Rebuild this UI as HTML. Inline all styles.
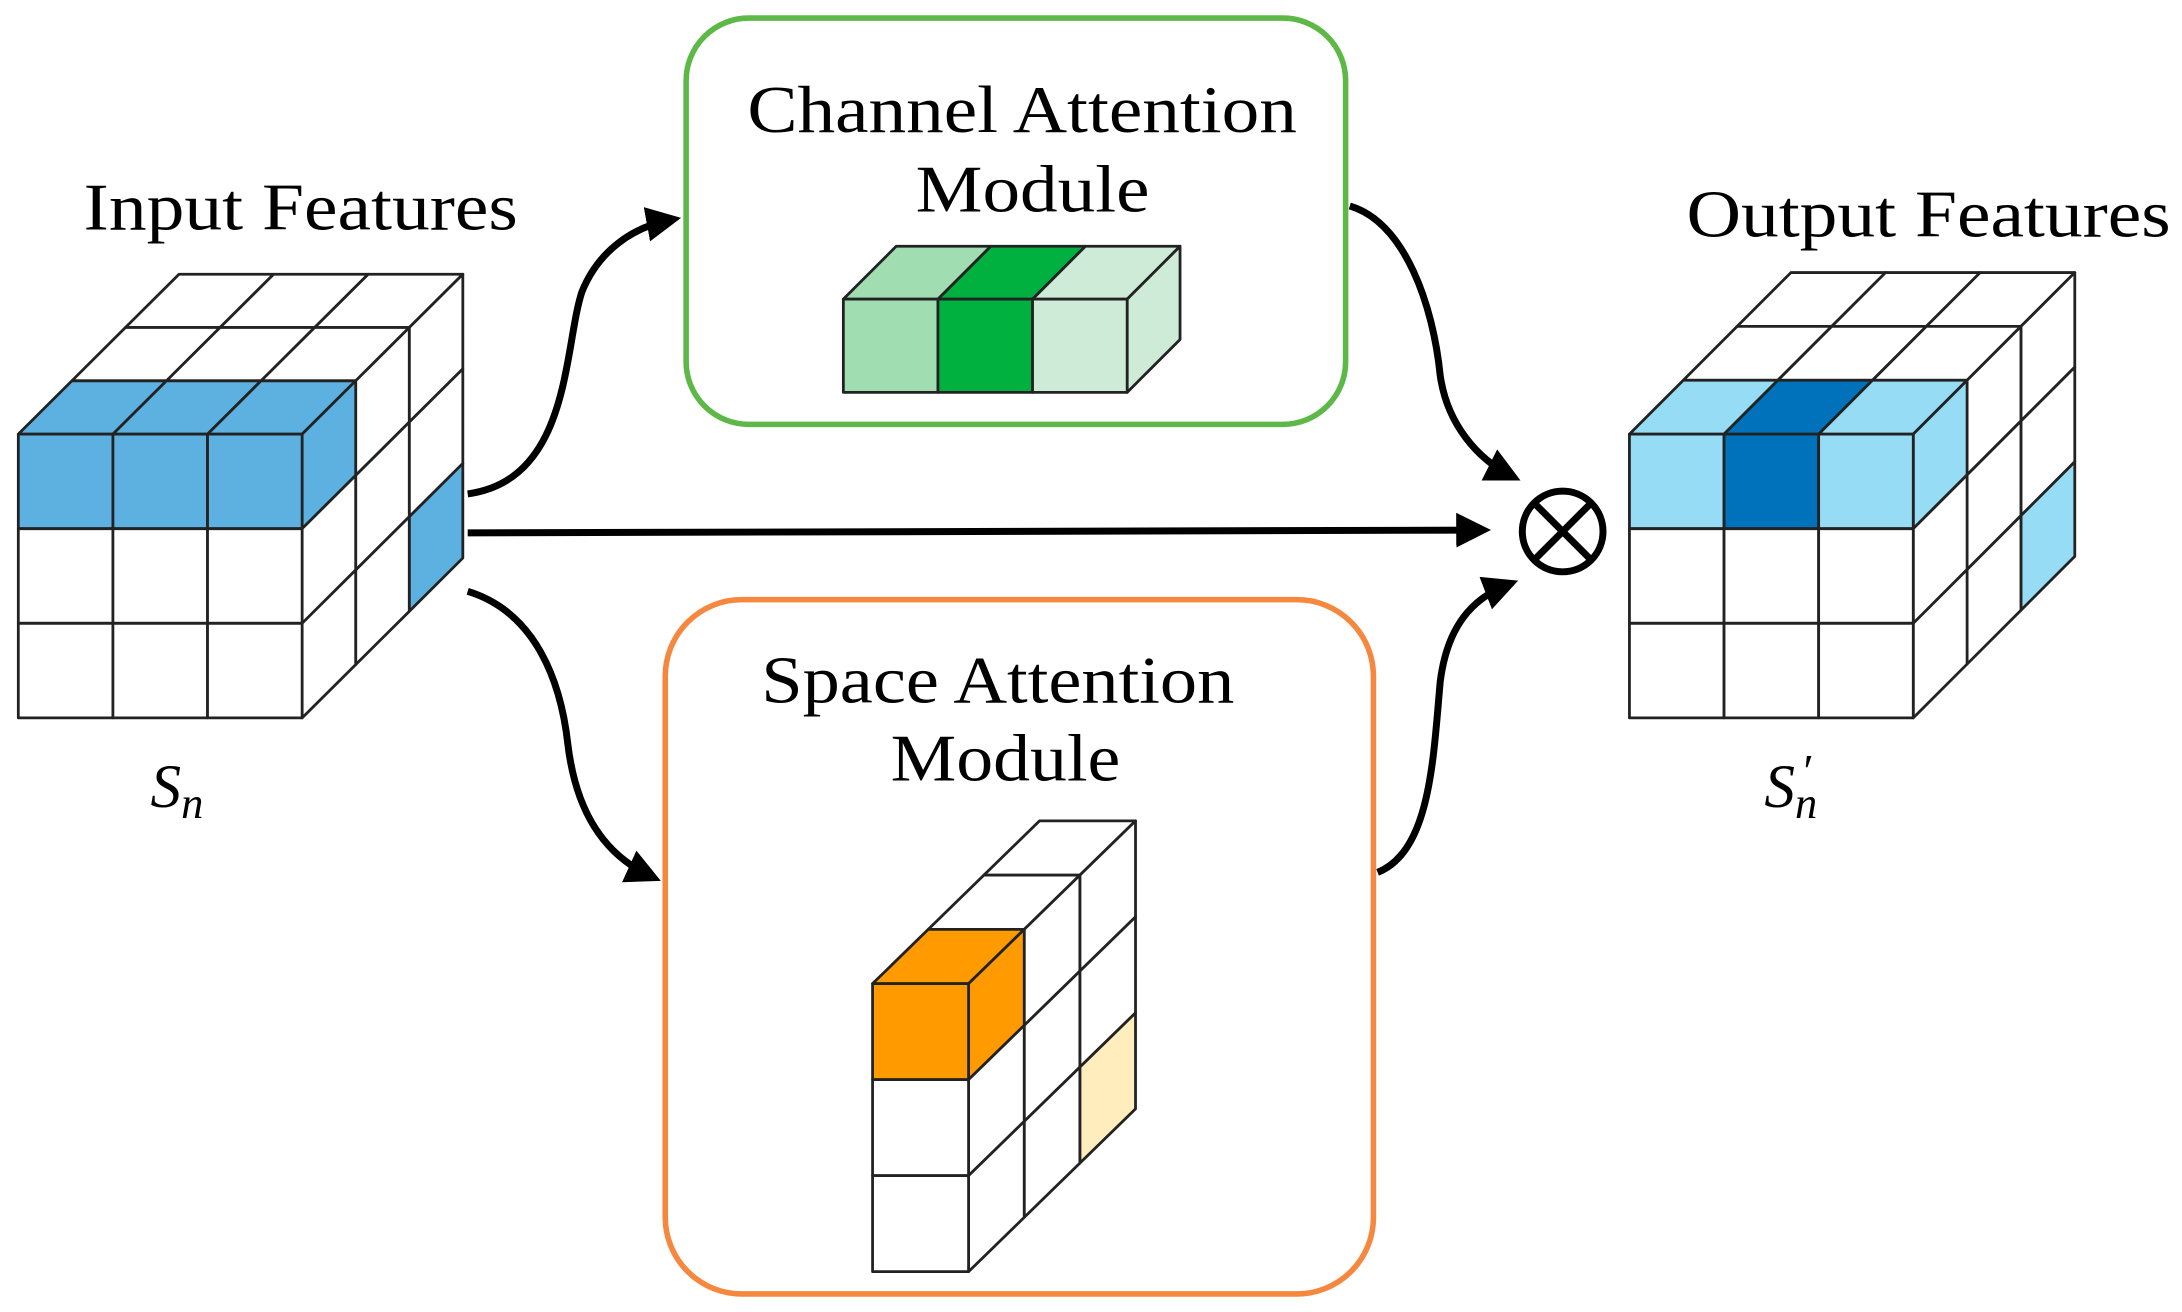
<!DOCTYPE html>
<html><head><meta charset="utf-8"><style>
html,body{margin:0;padding:0;background:#fff;}
svg{display:block;}
text{font-family:"Liberation Serif",serif;fill:#000;}
</style></head><body>
<svg id="s" width="2182" height="1312" viewBox="0 0 1568 943" xmlns="http://www.w3.org/2000/svg">
<defs>
<marker id="ah" markerWidth="5" markerHeight="5" refX="3.5" refY="2.5" orient="auto" markerUnits="strokeWidth">
<path d="M0,0 L5,2.5 L0,5 Z" fill="#000"/>
</marker>
</defs>
<rect x="493" y="13" width="474" height="292" rx="45" fill="none" stroke="#5DB847" stroke-width="4"/>
<rect x="478" y="431" width="509" height="499" rx="55" fill="none" stroke="#F5883E" stroke-width="4"/>
<text x="537" y="95" font-size="48" textLength="395" lengthAdjust="spacingAndGlyphs">Channel Attention</text>
<text x="658" y="152" font-size="48" textLength="168" lengthAdjust="spacingAndGlyphs">Module</text>
<text x="547" y="505" font-size="48" textLength="340" lengthAdjust="spacingAndGlyphs">Space Attention</text>
<text x="640" y="561" font-size="48" textLength="165" lengthAdjust="spacingAndGlyphs">Module</text>
<text x="60" y="165" font-size="48" textLength="312" lengthAdjust="spacingAndGlyphs">Input Features</text>
<text x="1212" y="170" font-size="48" textLength="348" lengthAdjust="spacingAndGlyphs">Output Features</text>
<text x="108" y="580" font-size="44" font-style="italic">S<tspan font-size="32" dy="8">n</tspan></text>
<text x="1268" y="580" font-size="44" font-style="italic">S<tspan font-size="32" dy="8">n</tspan></text>
<text x="1294" y="566" font-size="34" font-style="italic">′</text>
<g id="shapes"></g>
<g fill="none" stroke="#000" stroke-width="5">
<path d="M336,383 L1064,381" marker-end="url(#ah)"/>
<path d="M336,355 C410,345 405,250 418,210 C430,180 455,163 482,158" marker-end="url(#ah)"/>
<path d="M970,148 C1010,160 1030,220 1035,270 C1040,305 1062,330 1086,342" marker-end="url(#ah)"/>
<path d="M336,425 C385,440 403,490 408,535 C414,585 435,615 468,630" marker-end="url(#ah)"/>
<path d="M990,627 C1028,612 1030,545 1035,490 C1040,450 1058,430 1084,420" marker-end="url(#ah)"/>
<circle cx="1123" cy="382" r="29" stroke-width="5"/>
<path d="M1103,362 L1143,402 M1143,362 L1103,402" stroke-width="5"/>
</g>
</svg>
<script>
var g=document.getElementById('shapes');
function poly(pts,fill){var p=document.createElementNS('http://www.w3.org/2000/svg','polygon');
p.setAttribute('points',pts.map(function(a){return a[0]+','+a[1]}).join(' '));
p.setAttribute('fill',fill||'#fff');p.setAttribute('stroke','#222');p.setAttribute('stroke-width','2');
p.setAttribute('stroke-linejoin','round');g.appendChild(p);}
function cube(x0,y0,cols,rows,layers,c,dx,dy,fF,fT,fR,cw){
 cw=cw||c;
 for(var j=layers-1;j>=0;j--){
  for(var i=0;i<cols;i++){
   var ax=x0+i*cw+j*dx, ay=y0+j*dy;
   poly([[ax,ay],[ax+cw,ay],[ax+cw+dx,ay+dy],[ax+dx,ay+dy]],fT(i,j));
  }
 }
 for(var j=layers-1;j>=0;j--){
  for(var r=0;r<rows;r++){
   var ax=x0+cols*cw+j*dx, ay=y0+r*c+j*dy;
   poly([[ax,ay],[ax+dx,ay+dy],[ax+dx,ay+dy+c],[ax,ay+c]],fR(r,j));
  }
 }
 for(var r=0;r<rows;r++)for(var i=0;i<cols;i++){
  var ax=x0+i*cw, ay=y0+r*c;
  poly([[ax,ay],[ax+cw,ay],[ax+cw,ay+c],[ax,ay+c]],fF(i,r));
 }
}
var B='#5DB1E0';
cube(13,312,3,3,3,68,38.5,-38.3,
 function(i,r){return r==0?B:'#fff'},
 function(i,j){return j==0?B:'#fff'},
 function(r,j){return (j==0&&r==0)||(j==2&&r==2)?B:'#fff'});
var L='#97DCF5',D='#0072BB';
cube(1171,312,3,3,3,68,38.7,-38.7,
 function(i,r){return r==0?(i==1?D:L):'#fff'},
 function(i,j){return j==0?(i==1?D:L):'#fff'},
 function(r,j){return (j==0&&r==0)||(j==2&&r==2)?L:'#fff'});
var G=['#A0DDB0','#00B140','#CDEBD6'];
cube(606,215,3,1,1,67,38,-38,
 function(i){return G[i]},function(i){return G[i]},function(){return G[2]},68);
cube(627,707,1,3,3,69,40,-39,
 function(i,r){return r==0?'#FF9B00':'#fff'},
 function(i,j){return j==0?'#FF9B00':'#fff'},
 function(r,j){return j==0&&r==0?'#FF9B00':(j==2&&r==2?'#FFEDBD':'#fff')});
</script>
</body></html>
